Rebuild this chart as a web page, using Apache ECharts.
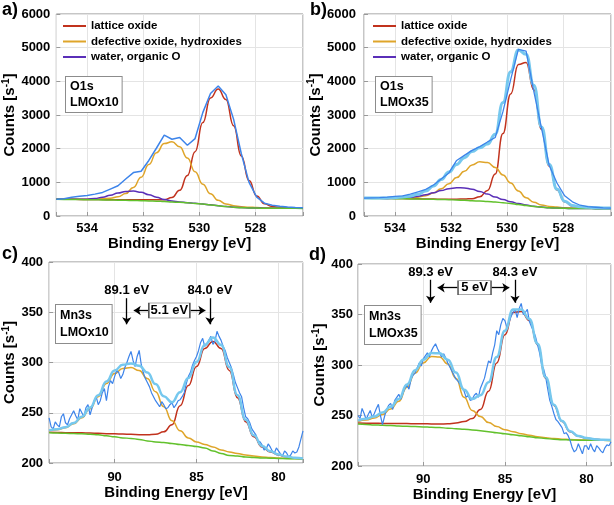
<!DOCTYPE html>
<html><head><meta charset="utf-8">
<script src="https://cdn.jsdelivr.net/npm/echarts@6/dist/echarts.min.js"></script>
<style>html,body{margin:0;padding:0;background:#fff}#c{width:614px;height:505px}</style>
</head><body><div id="c"></div>
<script>
// ---------- O1s binding energies (eV) ----------
const beO = [535.1,534.825,534.55,534.275,534.0,533.725,533.45,533.175,532.9,532.625,532.35,532.075,531.8,531.525,531.25,530.975,530.7,530.425,530.15,529.875,529.6,529.325,529.05,528.775,528.5,528.225,527.95,527.675,527.4,527.125,526.85,526.575,526.3];
// panel a) O1s LMOx10
const bgA  = [495,492,490,487,485,482,478,474,470,465,460,454,448,440,430,418,405,390,375,355,330,305,280,262,248,240,235,232,230,229,228,227,226];
const redA = [500,497,495,493,491,489,487,485,483,481,480,479,480,482,485,550,763,1201,1910,2774,3507,3770,3457,2681,1783,1051,593,364,285,255,236,232,230];
const yelA = [502,501,501,500,501,503,510,529,570,665,850,1154,1528,1880,2150,2203,2055,1720,1315,945,660,465,360,307,278,262,251,244,240,237,235,233,231];
const purA = [497,495,494,495,501,520,558,614,680,727,739,704,633,560,492,448,418,396,378,357,331,306,281,263,249,241,236,233,231,230,229,228,227];
const datA = [500,515,560,590,610,650,700,800,900,1100,1290,1330,1650,2020,2400,2280,2330,2100,2300,3070,3640,3860,3600,2870,1850,1000,560,380,320,290,270,255,245];
// panel b) O1s LMOx35
const bgB  = [525,523,521,518,515,512,508,504,500,495,490,483,475,466,455,443,430,414,395,370,340,310,283,262,245,234,227,223,221,220,219,218,218];
const redB = [530,528,526,523,520,517,514,510,507,503,499,500,501,504,515,571,760,1250,2449,3623,4500,4560,3750,2573,1486,769,420,300,264,250,240,235,231];
const yelB = [530,529,529,528,528,530,538,559,605,685,810,958,1140,1326,1515,1611,1588,1444,1220,980,740,540,410,330,285,264,247,237,232,229,226,224,223];
const purB = [526,525,524,523,525,542,554,584,630,690,755,813,841,835,797,731,650,564,490,425,370,325,290,265,246,234,227,223,221,220,219,218,218];
const envB = [536,536,537,538,543,565,590,645,742,888,1084,1305,1532,1733,1917,2027,2138,2430,3369,4288,4930,4805,3884,2644,1527,799,440,314,275,259,247,241,236];
const datB = [530,540,545,560,580,600,650,720,790,920,1100,1280,1650,1800,1950,2060,2200,2330,3100,4050,4950,4900,3700,2600,1500,980,600,420,320,280,260,240,235];

// ---------- Mn3s binding energies (eV) ----------
const beM = [94,93.5,93,92.5,92,91.5,91,90.5,90,89.5,89,88.5,88,87.5,87,86.5,86,85.5,85,84.5,84,83.5,83,82.5,82,81.5,81,80.5,80,79.5,79,78.5];
const beMraw = [94,93.875,93.75,93.625,93.5,93.375,93.25,93.125,93,92.875,92.75,92.625,92.5,92.375,92.25,92.125,92,91.875,91.75,91.625,91.5,91.375,91.25,91.125,91,90.875,90.75,90.625,90.5,90.375,90.25,90.125,90,89.875,89.75,89.625,89.5,89.375,89.25,89.125,89,88.875,88.75,88.625,88.5,88.375,88.25,88.125,88,87.875,87.75,87.625,87.5,87.375,87.25,87.125,87,86.875,86.75,86.625,86.5,86.375,86.25,86.125,86,85.875,85.75,85.625,85.5,85.375,85.25,85.125,85,84.875,84.75,84.625,84.5,84.375,84.25,84.125,84,83.875,83.75,83.625,83.5,83.375,83.25,83.125,83,82.875,82.75,82.625,82.5,82.375,82.25,82.125,82,81.875,81.75,81.625,81.5,81.375,81.25,81.125,81,80.875,80.75,80.625,80.5,80.375,80.25,80.125,80,79.875,79.75,79.625,79.5,79.375,79.25,79.125,79,78.875,78.75,78.625,78.5];
// panel c) Mn3s LMOx10
const bgC  = [230,229.8,229.6,229.3,229,228.5,228,227,226,225,224.5,223.5,222,221,220.5,219.5,218.5,217.5,216.5,215,212,209.5,207.5,207,206,205.5,205,204.8,204.5,204.3,204.2,204];
const redC = [230.5,230.4,230.2,230.1,230,229.8,229.5,229.2,229,228.8,228.5,228.2,228,228.5,231,238,257,277,296,314,321,314,292,265,241,226,216,211,208,206,205,204.5];
const yelC = [232,233,235,239,245,254,266,279,289,294,295,292,284,271,256,242,232,225,221,218.5,216,213,211,209.5,208,207,206,205.5,205,204.7,204.5,204];
const envC = [232.5,233.6,235.6,239.8,246,255.3,267.5,281.2,292,297.8,299,296.7,290,278.5,266.5,260.5,270.5,284.5,300.5,317.5,325,317.5,295.5,267.5,243,227.5,217,211.7,208.5,206.4,205.3,204.5];
const datC = [245,236,234,241,238,236,246,249,240,238,244,248,252,247,243,254,250,246,255,258,248,255,262,266,258,262,270,274,262,276,282,279,286,292,290,284,288,295,300,306,311,302,296,306,312,298,290,284,280,276,270,266,262,259,256,261,258,254,255,258,260,255,258,262,263,266,270,279,286,290,297,302,306,312,320,324,316,318,322,326,318,321,331,326,322,316,312,305,300,295,288,280,275,270,266,255,246,244,240,234,231,228,222,221,218,213,214,219,216,212,210,215,212,209,207,212,210,206,208,212,210,211,216,224,232];
// panel d) Mn3s LMOx35
const bgD  = [241.5,241.1,240.7,240.3,240,239.6,239.3,239,238.7,238.3,238,237.5,237,236.4,235.7,234.9,234,233,232,231,230,229,228,227.2,226.5,226.1,225.8,225.6,225.5,225.4,225.4,225.3];
const redD = [242.5,242.4,242.3,242.2,242.1,242,242,241.9,241.8,241.7,241.6,241.8,242.5,244,247,256,274,302,330,352,353,344,320,287,260,244,234,229.5,227.5,226.5,226,225.7];
const yelD = [244,245.5,247.5,251,256.5,264,278,292,302,308.5,308,301,287,268,255,249,243,239,236,234,232,230.5,229,228,227.2,226.6,226.2,225.9,225.7,225.5,225.4,225.3];
const envD = [245,246.8,249.1,252.9,258.6,266.4,280.7,294.9,305.1,311.9,311.6,305.3,292.5,275.6,266.3,270.1,283,308,334,355,355,345.5,321,287.8,260.7,244.5,234.4,229.8,227.7,226.6,226,225.7];
const datD = [250,247,257,252,246,251,255,248,252,257,261,250,241,249,256,260,262,256,265,268,271,266,272,277,280,276,286,290,292,297,302,299,306,309,312,308,314,318,321,316,312,308,311,307,302,298,294,290,286,284,281,277,274,268,270,265,266,270,272,268,277,282,287,296,304,302,312,320,334,330,340,346,344,337,342,348,352,355,347,356,361,350,352,355,343,338,334,328,320,312,300,296,288,276,265,259,252,246,244,241,238,232,233,230,225,218,214,216,222,217,212,220,220,216,222,217,214,220,218,215,213,218,221,220,224];

// ---------- annotations ----------
const peakTxtC = ['89.1 eV','84.0 eV'];
const peakPosC = [89.26, 84.18];
const splitTxtC = '5.1 eV';
const peakTxtD = ['89.3 eV','84.3 eV'];
const peakPosD = [89.55, 84.38];
const splitTxtD = '5 eV';
const legendNames = ['lattice oxide','defective oxide, hydroxides','water, organic O'];

const F = "'Liberation Sans', Arial, Helvetica, sans-serif";
const COL = {data:'#3d84ea', env:'#76c8ee', red:'#c1321d', yel:'#dfa52a', pur:'#5a2fb8', grn:'#62c12c'};
const pairs = (xs, ys) => xs.map((x, i) => [x, ys[i]]);

function xAx(i, min, max, split, step, nameGap, margin) {
  return {type:'value', gridIndex:i, inverse:true, min:min, max:max, splitNumber:split,
    name:'Binding Energy [eV]', nameLocation:'middle', nameGap:nameGap,
    nameTextStyle:{fontFamily:F, fontWeight:'bold', fontSize:15, color:'#000'},
    axisLine:{show:false}, axisTick:{show:true, inside:true, length:4, lineStyle:{color:'#999'}},
    axisLabel:{margin:margin, fontFamily:F, fontWeight:'bold', fontSize:13, color:'#000',
      formatter: v => (Math.abs(v/step - Math.round(v/step)) < 1e-6 ? String(Math.round(v)) : '')},
    splitLine:{show:true, lineStyle:{color:'#e4e4e4'}}};
}
function yAx(i, min, max, interval, nameGap, margin) {
  return {type:'value', gridIndex:i, min:min, max:max, interval:interval,
    name:'{n|Counts [s}{s|-1}{n|]}', nameLocation:'middle', nameGap:nameGap, nameRotate:90,
    nameTextStyle:{rich:{
      n:{fontFamily:F, fontWeight:'bold', fontSize:15, color:'#000', lineHeight:18},
      s:{fontFamily:F, fontWeight:'bold', fontSize:10, color:'#000', verticalAlign:'top', lineHeight:10}}},
    axisLine:{show:false}, axisTick:{show:true, inside:true, length:4, lineStyle:{color:'#999'}},
    axisLabel:{margin:margin, fontFamily:F, fontWeight:'bold', fontSize:13, color:'#000', formatter: v => String(v)},
    splitLine:{show:true, lineStyle:{color:'#e4e4e4'}}};
}
function ln(name, gi, xs, ys, color, width, smooth) {
  return {type:'line', name:name, xAxisIndex:gi, yAxisIndex:gi, data:pairs(xs, ys),
    showSymbol:false, symbol:'none', smooth:smooth, smoothMonotone:'x',
    lineStyle:{color:color, width:width}, itemStyle:{color:color}, silent:true, z:2};
}
function annot(peakPos, peakTxt, yLab, yTop, yTip, yH, boxMid, boxW, boxH, boxL, boxR, tipL, tipR, splitTxt) {
  const lab = {show:true, position:'inside', color:'#000', fontFamily:F, fontWeight:'bold', fontSize:13};
  return {
    markLine:{silent:true, symbol:['none','arrow'], symbolSize:7, animation:false,
      lineStyle:{color:'#000', width:1.3, type:'solid'}, label:{show:false}, emphasis:{disabled:true},
      data:[
        [{coord:[peakPos[0], yTop]}, {coord:[peakPos[0], yTip]}],
        [{coord:[peakPos[1], yTop]}, {coord:[peakPos[1], yTip]}],
        [{coord:[boxL, yH]}, {coord:[tipL, yH]}],
        [{coord:[boxR, yH]}, {coord:[tipR, yH]}]
      ]},
    markPoint:{silent:true, animation:false, data:[
      {coord:[peakPos[0], yLab], symbol:'rect', symbolSize:[1,1], itemStyle:{color:'rgba(0,0,0,0)'}, label:Object.assign({formatter:peakTxt[0]}, lab)},
      {coord:[peakPos[1], yLab], symbol:'rect', symbolSize:[1,1], itemStyle:{color:'rgba(0,0,0,0)'}, label:Object.assign({formatter:peakTxt[1]}, lab)},
      {coord:[boxMid, yH], symbol:'rect', symbolSize:[boxW, boxH], itemStyle:{color:'#fff', borderColor:'#555', borderWidth:1}, label:Object.assign({formatter:splitTxt}, lab)}
    ]}
  };
}

const series = [];
// a
series.push(ln('lattice oxide', 0, beO, redA, COL.red, 1.5, true));
series.push(ln('defective oxide, hydroxides', 0, beO, yelA, COL.yel, 1.5, true));
series.push(ln('water, organic O', 0, beO, purA, COL.pur, 1.5, true));
series.push(ln('background a', 0, beO, bgA, COL.grn, 1.5, true));
series.push(ln('data a', 0, beO, datA, COL.data, 1.5, false));
// b
series.push(ln('lattice oxide', 1, beO, redB, COL.red, 1.5, true));
series.push(ln('defective oxide, hydroxides', 1, beO, yelB, COL.yel, 1.5, true));
series.push(ln('water, organic O', 1, beO, purB, COL.pur, 1.5, true));
series.push(ln('background b', 1, beO, bgB, COL.grn, 1.5, true));
series.push(ln('envelope b', 1, beO, envB, COL.env, 3, true));
series.push(ln('data b', 1, beO, datB, COL.data, 1.3, false));
// c
series.push(ln('red c', 2, beM, redC, COL.red, 1.5, true));
series.push(ln('yel c', 2, beM, yelC, COL.yel, 1.5, true));
series.push(ln('background c', 2, beM, bgC, COL.grn, 1.5, true));
series.push(ln('data c', 2, beMraw, datC, COL.data, 1.2, false));
series.push(Object.assign(ln('envelope c', 2, beM, envC, COL.env, 2.5, true),
  annot(peakPosC, peakTxtC, 372, 364, 338, 351.7, 86.66, 41, 15, 87.92, 85.37, 88.83, 84.46, splitTxtC)));
// d
series.push(ln('red d', 3, beM, redD, COL.red, 1.5, true));
series.push(ln('yel d', 3, beM, yelD, COL.yel, 1.5, true));
series.push(ln('background d', 3, beM, bgD, COL.grn, 1.5, true));
series.push(ln('data d', 3, beMraw, datD, COL.data, 1.2, false));
series.push(Object.assign(ln('envelope d', 3, beM, envD, COL.env, 2.5, true),
  annot(peakPosD, peakTxtD, 391.4, 384.4, 361.6, 376.5, 86.86, 33, 14, 87.9, 85.82, 89.12, 84.73, splitTxtD)));

const legendBase = {data:legendNames, orient:'vertical', icon:'rect', itemWidth:23, itemHeight:2, itemGap:1.5,
  selectedMode:false, padding:0,
  textStyle:{fontFamily:F, fontWeight:'bold', fontSize:11.5, color:'#000', lineHeight:14}};

const boxStyle = (t, x, y, lh) => ({type:'text', left:x, top:y, z:100,
  style:{text:t, font:'bold 12.5px ' + F, fill:'#000', backgroundColor:'#fff', borderColor:'#8c8c8c', borderWidth:1,
    padding:[2,3,2,4], lineHeight:lh}});
const panelLab = (t, x, y) => ({type:'text', left:x, top:y, z:100, style:{text:t, font:'bold 18px ' + F, fill:'#000'}});

const option = {
  animation:false,
  backgroundColor:'#fff',
  grid:[
    {left:56, top:14, width:247, height:202, show:true, borderColor:'#8c8c8c', borderWidth:1, backgroundColor:'#fff'},
    {left:364, top:14, width:248, height:202, show:true, borderColor:'#8c8c8c', borderWidth:1, backgroundColor:'#fff'},
    {left:48, top:262, width:255, height:201, show:true, borderColor:'#8c8c8c', borderWidth:1, backgroundColor:'#fff'},
    {left:358, top:264, width:254, height:202, show:true, borderColor:'#8c8c8c', borderWidth:1, backgroundColor:'#fff'}
  ],
  xAxis:[
    xAx(0, 526.3, 535.1, 4, 2, 20, 6),
    xAx(1, 526.3, 535.1, 4, 2, 20, 6),
    xAx(2, 78.5, 94, 3, 5, 22, 8),
    xAx(3, 78.5, 94, 3, 5, 20, 7)
  ],
  yAxis:[
    yAx(0, 0, 6000, 1000, 33, 6),
    yAx(1, 0, 6000, 1000, 34, 8),
    yAx(2, 200, 400, 50, 26, 6),
    yAx(3, 200, 400, 50, 28, 5)
  ],
  legend:[
    Object.assign({left:63, top:19}, legendBase),
    Object.assign({left:373, top:19}, legendBase)
  ],
  graphic:[
    panelLab('a)', 2, 1), panelLab('b)', 310, 1), panelLab('c)', 2, 245), panelLab('d)', 309, 246),
    boxStyle('O1s\nLMOx10', 65, 76, 15.5), boxStyle('O1s\nLMOx35', 375, 76, 15.5),
    boxStyle('Mn3s\nLMOx10', 55, 304, 17), boxStyle('Mn3s\nLMOx35', 364, 305, 17)
  ],
  series:series
};
const chart = echarts.init(document.getElementById('c'));
chart.setOption(option);
</script></body></html>
